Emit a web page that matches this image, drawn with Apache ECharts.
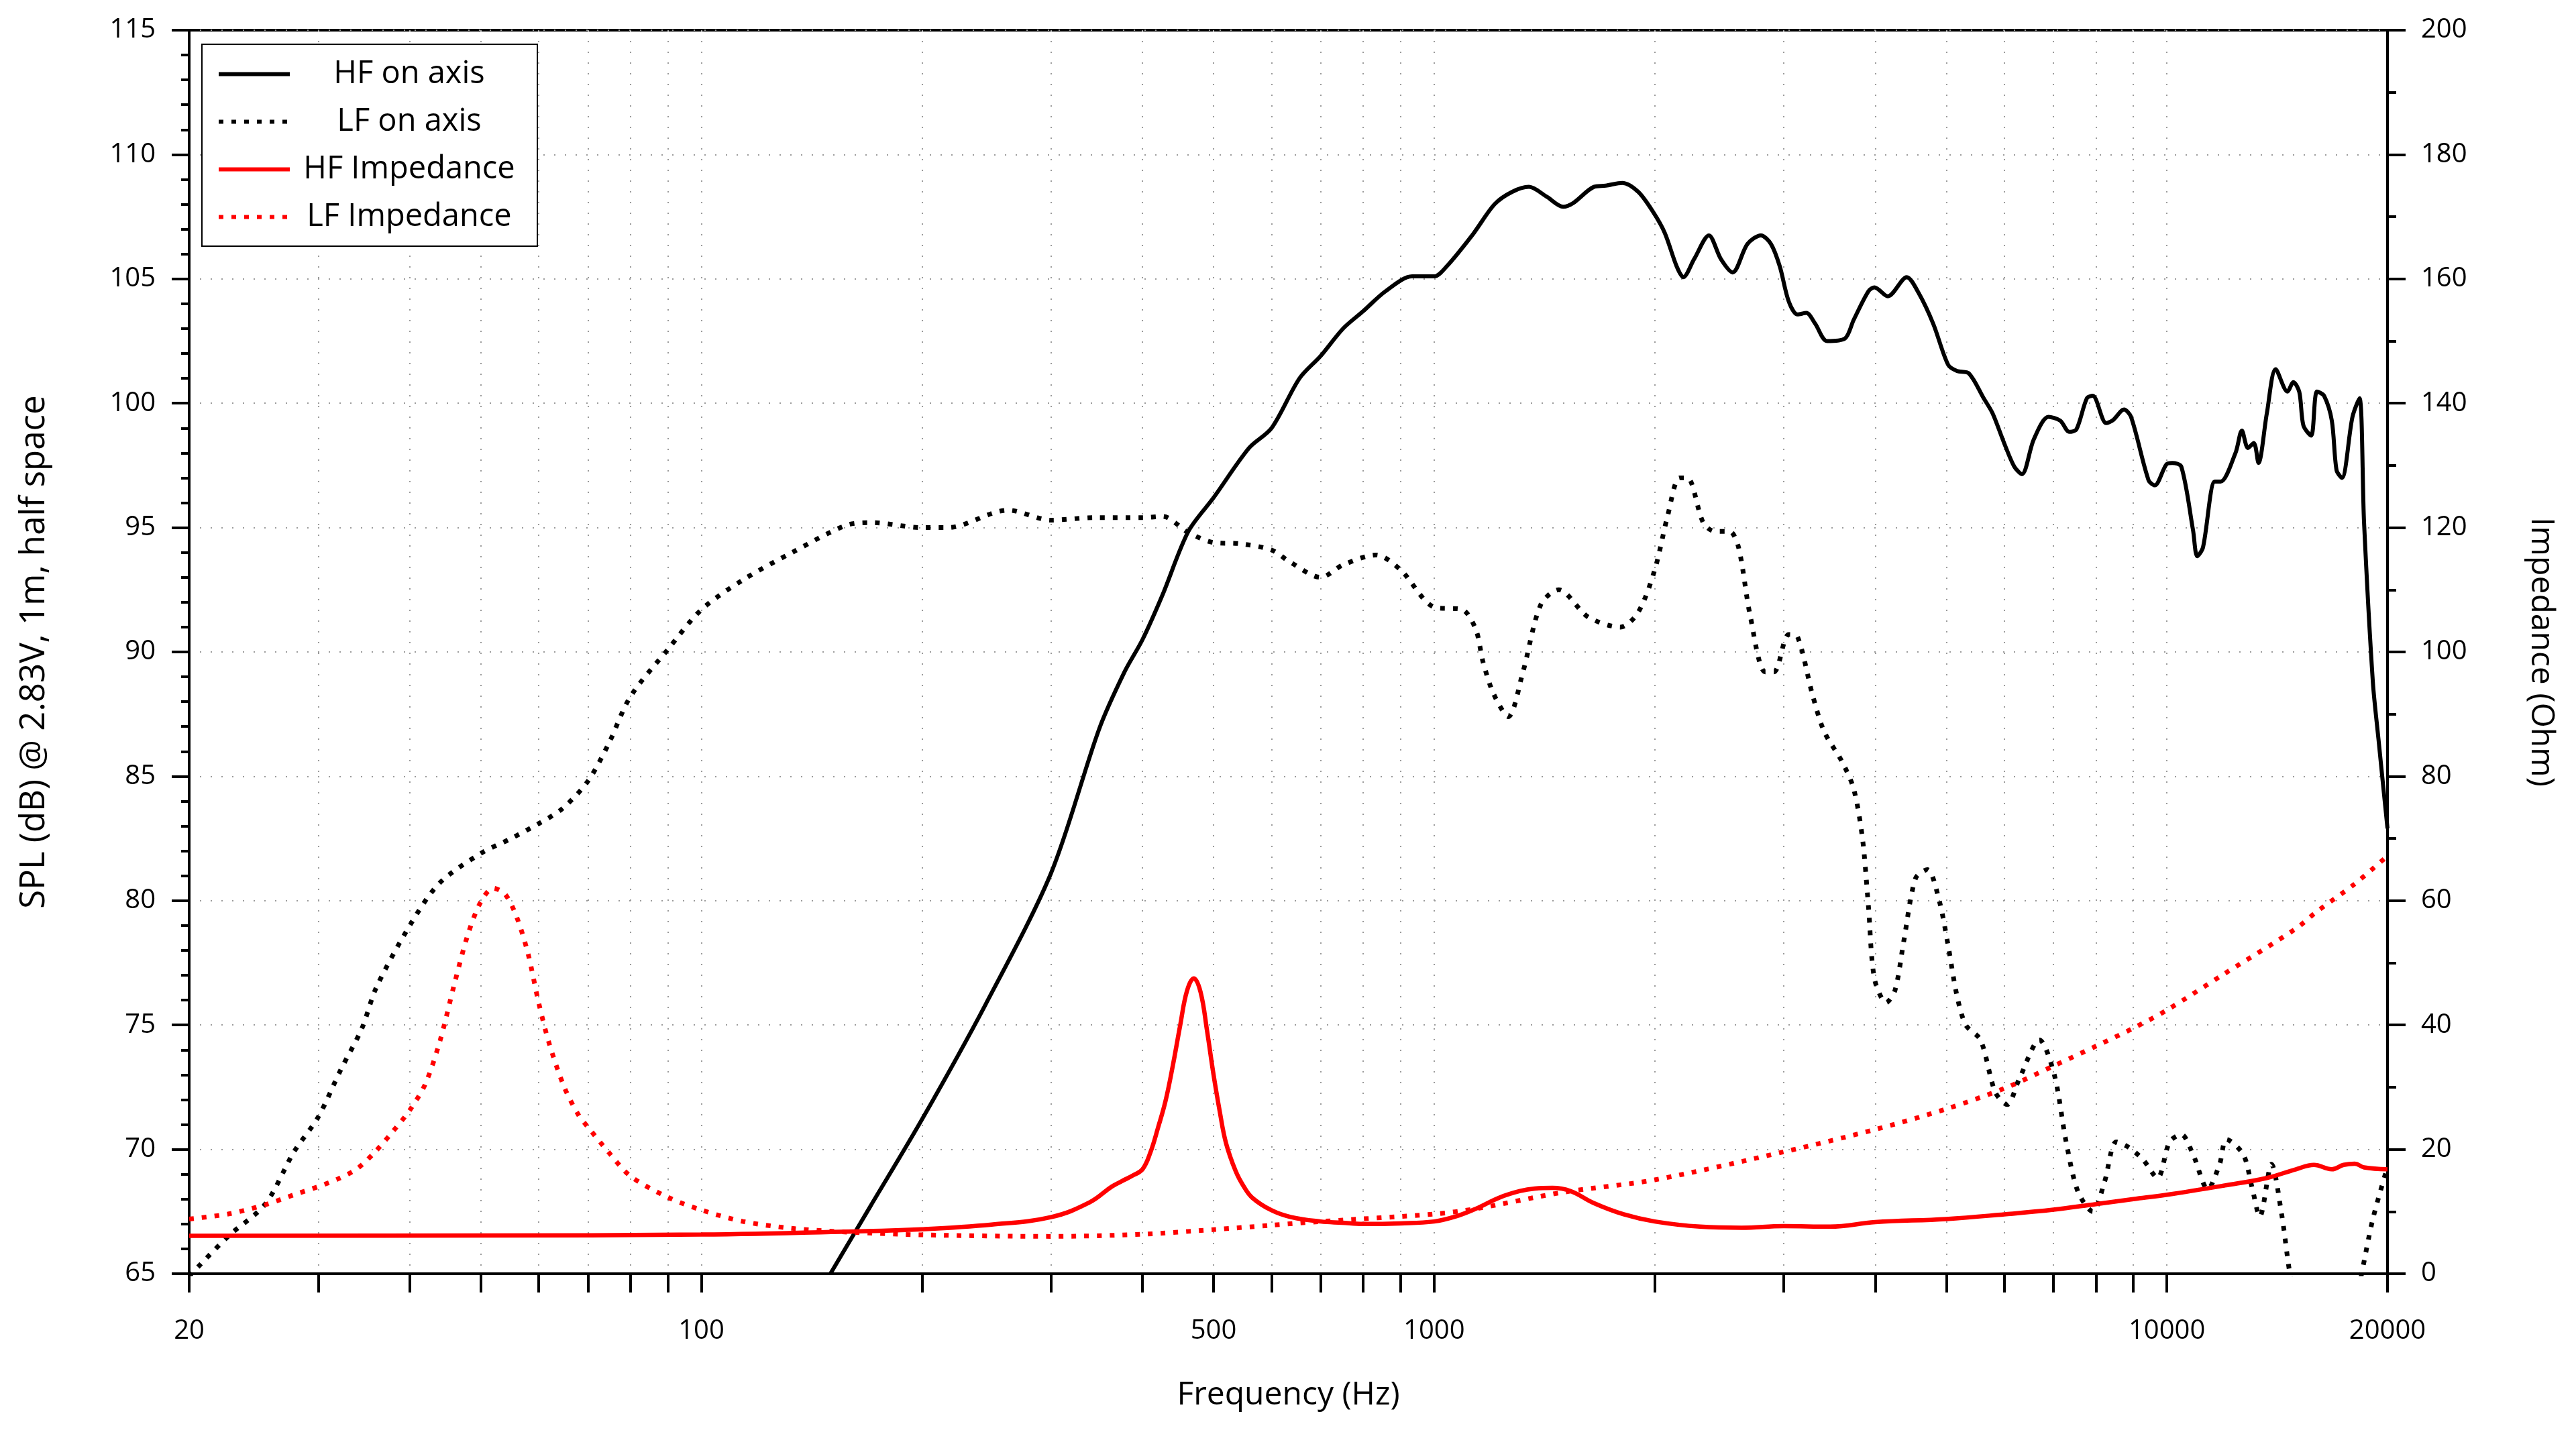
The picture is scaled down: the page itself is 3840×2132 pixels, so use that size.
<!DOCTYPE html>
<html>
<head>
<meta charset="utf-8">
<title>HF / LF response and impedance</title>
<script src="https://cdn.jsdelivr.net/npm/echarts@6/dist/echarts.min.js"></script>
<style>
  html, body { margin: 0; padding: 0; background: #fff; }
  #chart { width: 3840px; height: 2132px; }
</style>
</head>
<body>
<div id="chart"></div>
<script>
// axis ticks (Hz)
var freqTicks = [20, 30, 40, 50, 60, 70, 80, 90, 100, 200, 300, 400, 500, 600, 700, 800, 900,
  1000, 2000, 3000, 4000, 5000, 6000, 7000, 8000, 9000, 10000, 20000];
var freqLabels = [20, 100, 500, 1000, 10000, 20000];

// HF on axis (dB SPL)
var hfFreq = [150, 170, 200, 244, 300, 349, 378, 400, 426, 462, 500, 559, 600, 655, 700, 751, 800, 858, 933,
  1000, 1040, 1130, 1209, 1278, 1347, 1425, 1500, 1548, 1652, 1715, 1806, 1899, 1989, 2064, 2143, 2188,
  2264, 2371, 2462, 2555, 2676, 2792, 2882, 2963, 3047, 3133, 3221, 3311, 3438, 3635, 3737, 3914, 3990,
  4160, 4415, 4582, 4798, 5028, 5168, 5367, 5623, 5781, 5996, 6191, 6341, 6582, 6892, 7152, 7358, 7525,
  7777, 7920, 8265, 8448, 8738, 8934, 9441, 9626, 9988, 10171, 10463, 10855, 11000, 11200, 11625, 11840,
  12404, 12657, 12900, 13140, 13335, 13690, 14075, 14605, 14880, 15160, 15357, 15733, 16025, 16387,
  16790, 17043, 17332, 17915, 18315, 18580, 19100, 19440, 20000];
var hfSpl = [65.0, 67.7, 71.2, 75.8, 81.1, 86.9, 89.2, 90.5, 92.3, 94.85, 96.2, 98.2, 99.0, 101.0, 101.9, 103.0,
  103.7, 104.5, 105.1, 105.1, 105.5, 106.8, 108.0, 108.5, 108.7, 108.3, 107.9, 108.05, 108.7, 108.75,
  108.86, 108.5, 107.7, 106.85, 105.5, 105.07, 105.8, 106.75, 105.8, 105.26, 106.4, 106.75, 106.4, 105.5,
  104.1, 103.57, 103.63, 103.2, 102.5, 102.6, 103.35, 104.5, 104.66, 104.3, 105.07, 104.44, 103.2, 101.55,
  101.3, 101.2, 100.2, 99.6, 98.4, 97.45, 97.15, 98.55, 99.45, 99.3, 98.85, 98.95, 100.2, 100.3, 99.2,
  99.33, 99.75, 99.45, 96.9, 96.7, 97.55, 97.6, 97.45, 94.9, 93.85, 94.2, 96.85, 96.85, 98.0, 98.9, 98.2,
  98.4, 97.6, 99.6, 101.37, 100.47, 100.85, 100.45, 99.1, 98.7, 100.47, 100.3, 99.3, 97.3, 97.0, 99.45,
  100.2, 95.2, 88.8, 86.5, 82.9];

// LF on axis (dB SPL)
var lfFreq = [20, 22.6, 25.4, 27.8, 30, 32.2, 34.4, 36, 40, 43.9, 50, 55, 60, 64.6, 70, 74.7, 80, 90,
  100, 114, 133, 158, 171, 200, 217, 262, 300, 344, 400, 426, 462, 500, 544, 600, 637, 700, 751, 833,
  900, 1000, 1093, 1140, 1166, 1206, 1262, 1322, 1398, 1479, 1623, 1796, 1899, 2000, 2084, 2162, 2216,
  2329, 2415, 2530, 2603, 2698, 2830, 2909, 3047, 3134, 3282, 3406, 3601, 3737, 3842, 3914, 3990, 4140,
  4256, 4376, 4540, 4711, 4890, 5028, 5168, 5315, 5567, 5831, 6054, 6281, 6700, 7020, 7286, 7561, 7920,
  8221, 8530, 8849, 9270, 9708, 10085, 10463, 10855, 11370, 11800, 12060, 12710, 13060, 13390, 13890,
  14340, 14740, 15500, 16500, 17700, 18410, 19100, 20000];
var lfSpl = [64.9, 66.5, 67.8, 69.9, 71.3, 73.2, 74.85, 76.5, 79.0, 80.7, 81.9, 82.5, 83.1, 83.7, 84.8,
  86.3, 88.2, 90.1, 91.7, 92.9, 94.0, 95.1, 95.2, 95.0, 95.0, 95.7, 95.3, 95.4, 95.4, 95.45, 94.8, 94.4,
  94.35, 94.1, 93.6, 93.0, 93.5, 93.9, 93.3, 91.8, 91.7, 90.9, 89.6, 88.3, 87.4, 89.2, 91.9, 92.5, 91.4,
  91.0, 91.6, 93.3, 95.5, 97.0, 97.0, 95.2, 94.85, 94.85, 94.2, 91.5, 89.2, 89.2, 90.7, 90.6, 88.3, 86.8,
  85.6, 84.5, 82.5, 79.8, 76.85, 75.9, 76.4, 78.4, 80.9, 81.25, 80.0, 78.2, 76.2, 75.0, 74.4, 72.3, 71.8,
  72.8, 74.4, 73.0, 70.3, 68.3, 67.5, 68.7, 70.3, 70.1, 69.6, 68.85, 70.3, 70.6, 69.8, 68.4, 69.4, 70.4,
  69.8, 68.5, 67.3, 69.4, 67.4, 64.9, 62.0, 60.0, 62.5, 64.9, 67.2, 69.3];

// HF impedance (Ohm)
var hfZFreq = [20, 50, 100, 162, 200, 249, 300, 339, 363, 375, 388, 400, 410, 420, 430, 440, 450, 460, 470,
  480, 490, 500, 510, 520, 536, 550, 565, 600, 638, 700, 748, 800, 900, 1000, 1070, 1140, 1228, 1310, 1373,
  1450, 1535, 1652, 1814, 2000, 2306, 2627, 3000, 3470, 4000, 5000, 6000, 7000, 8000, 9000, 10000, 12000,
  13690, 15000, 15870, 16790, 17420, 18050, 18580, 20000];
var hfZ = [6.1, 6.15, 6.3, 6.8, 7.15, 7.9, 9.1, 11.5, 14.0, 14.9, 15.8, 16.8, 19.5, 23.5, 27.8, 33.5, 39.8,
  45.5, 47.5, 45.3, 39.0, 32.0, 26.0, 21.0, 16.5, 14.0, 12.2, 10.2, 9.1, 8.4, 8.2, 8.0, 8.1, 8.4, 9.2, 10.45,
  12.25, 13.3, 13.7, 13.8, 13.3, 11.35, 9.55, 8.4, 7.57, 7.4, 7.66, 7.57, 8.3, 8.8, 9.55, 10.3, 11.2, 12.0,
  12.7, 14.2, 15.4, 16.8, 17.5, 16.8, 17.5, 17.7, 17.1, 16.8];

// LF impedance (Ohm)
var lfZFreq = [20, 22.6, 25.4, 27.8, 30, 32, 34, 36, 38, 40, 42, 44, 46, 48, 50, 52, 54, 56, 58, 60, 62,
  65, 68, 70, 75, 80, 90, 100, 114, 133, 158, 200, 300, 400, 500, 600, 700, 1000, 1140, 1500, 2000, 3000,
  4000, 5000, 6000, 7000, 8000, 9000, 10000, 12000, 15000, 16000, 18000, 20000];
var lfZ = [8.8, 9.6, 11.1, 12.7, 14.0, 15.3, 17.0, 19.8, 23.0, 26.3, 30.5, 37.5, 46.5, 54.5, 59.8, 62.0,
  61.0, 57.3, 51.5, 43.5, 37.0, 30.0, 25.5, 23.6, 19.3, 15.7, 12.3, 10.25, 8.4, 7.3, 6.7, 6.25, 6.0, 6.35,
  7.1, 7.8, 8.4, 9.6, 10.45, 13.1, 15.1, 19.6, 23.2, 26.5, 29.8, 33.4, 36.6, 39.5, 42.4, 48.3, 55.5, 58.2,
  62.6, 67.2];

function pairs(xs, ys) {
  return xs.map(function (x, i) { return [x, ys[i]]; });
}

var FONT = 'Open Sans';
var gridDots = { type: [2, 14], color: '#9a9a9a', width: 2 };

var chart = echarts.init(document.getElementById('chart'), null, { renderer: 'canvas' });

var option = {
  animation: false,
  backgroundColor: '#fff',
  textStyle: { fontFamily: FONT, color: '#000' },
  grid: {
    left: 282, right: 281, top: 45, bottom: 233,
    containLabel: false, outerBoundsMode: 'none',
    show: true, borderColor: '#000', borderWidth: 4, backgroundColor: 'transparent'
  },
  legend: {
    orient: 'vertical',
    left: 301, top: 66,
    padding: [21, 18, 20, 22],
    itemWidth: 106, itemHeight: 50, itemGap: 24,
    backgroundColor: '#fff', borderColor: '#000', borderWidth: 2, borderRadius: 0,
    itemStyle: { opacity: 0 },
    lineStyle: { width: 6 },
    data: ['HF on axis', 'LF on axis', 'HF Impedance', 'LF Impedance'],
    formatter: function (name) { return '{t|' + name + '}'; },
    textStyle: {
      rich: {
        t: { width: 346, align: 'center', fontSize: 47, lineHeight: 50, color: '#000', fontFamily: FONT }
      }
    }
  },
  xAxis: {
    type: 'log', logBase: 10, min: 20, max: 20000,
    name: 'Frequency (Hz)', nameLocation: 'middle', nameGap: 157,
    nameTextStyle: { fontSize: 48, color: '#000', fontFamily: FONT },
    axisLine: { show: true, lineStyle: { color: '#000', width: 4 } },
    axisTick: { show: true, inside: false, length: 28, customValues: freqTicks,
      lineStyle: { color: '#000', width: 4 } },
    minorTick: { show: false },
    axisLabel: { customValues: freqLabels, margin: 66, fontSize: 40, color: '#000', fontFamily: FONT,
      formatter: function (v) { return String(Math.round(v)); } },
    splitLine: { show: true, lineStyle: gridDots },
    minorSplitLine: { show: false }
  },
  yAxis: [{
    type: 'value', position: 'left', min: 65, max: 115, interval: 5,
    name: 'SPL (dB) @ 2.83V, 1m, half space', nameLocation: 'middle', nameGap: 205,
    nameTextStyle: { fontSize: 51, color: '#000', fontFamily: FONT },
    axisLine: { show: true, lineStyle: { color: '#000', width: 4 } },
    axisTick: { show: true, inside: false, length: 26, lineStyle: { color: '#000', width: 4 } },
    minorTick: { show: true, splitNumber: 5, length: 12, lineStyle: { color: '#000', width: 4 } },
    axisLabel: { margin: 50, fontSize: 40, color: '#000', fontFamily: FONT },
    splitLine: { show: true, lineStyle: gridDots }
  }, {
    type: 'value', position: 'right', min: 0, max: 200, interval: 20,
    name: 'Impedance (Ohm)', nameLocation: 'middle', nameGap: 205, nameRotate: -90,
    nameTextStyle: { fontSize: 48, color: '#000', fontFamily: FONT },
    axisLine: { show: true, lineStyle: { color: '#000', width: 4 } },
    axisTick: { show: true, inside: false, length: 27, lineStyle: { color: '#000', width: 4 } },
    minorTick: { show: true, splitNumber: 2, length: 13, lineStyle: { color: '#000', width: 4 } },
    axisLabel: { margin: 50, fontSize: 40, color: '#000', fontFamily: FONT },
    splitLine: { show: false }
  }],
  series: [{
    name: 'HF on axis', type: 'line', yAxisIndex: 0,
    data: pairs(hfFreq, hfSpl),
    symbol: 'none', showSymbol: false, smooth: 0.3, clip: true,
    lineStyle: { color: '#000', width: 6 }, itemStyle: { color: '#000' }
  }, {
    name: 'LF on axis', type: 'line', yAxisIndex: 0,
    data: pairs(lfFreq, lfSpl),
    symbol: 'none', showSymbol: false, smooth: 0.3, clip: true,
    lineStyle: { color: '#000', width: 7, type: [7, 12], cap: 'butt' }, itemStyle: { color: '#000' }
  }, {
    name: 'HF Impedance', type: 'line', yAxisIndex: 1,
    data: pairs(hfZFreq, hfZ),
    symbol: 'none', showSymbol: false, smooth: 0.4, clip: true,
    lineStyle: { color: '#ff0000', width: 6.5 }, itemStyle: { color: '#ff0000' }
  }, {
    name: 'LF Impedance', type: 'line', yAxisIndex: 1,
    data: pairs(lfZFreq, lfZ),
    symbol: 'none', showSymbol: false, smooth: 0.3, clip: true,
    lineStyle: { color: '#ff0000', width: 7, type: [7, 12], cap: 'butt' }, itemStyle: { color: '#ff0000' }
  }]
};

chart.setOption(option);
</script>
</body>
</html>
